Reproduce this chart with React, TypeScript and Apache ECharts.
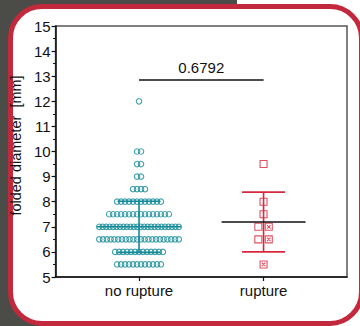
import React, { useEffect, useRef } from "react";
import * as echarts from "echarts";

const groups = ["no rupture", "rupture"];
// no rupture: folded diameter values and how many patients at each value
const noRuptureValues = [5.5, 6, 6.5, 7, 7.5, 8, 8.5, 9, 9.5, 10, 12];
const noRuptureCounts = [12, 13, 22, 24, 16, 12, 4, 2, 2, 2, 1];
// rupture: individual values
const ruptureValues = [9.5, 8, 7.5, 7, 7, 6.5, 6.5, 5.5];
// mean and SD
const means = [7.0, 7.19];
const sds = [1.02, 1.19];
const pValue = "0.6792";
const bracketY = 12.85;
const yTicks = [5, 6, 7, 8, 9, 10, 11, 12, 13, 14, 15];

const TEAL = "#138a96";
const RED = "#d7263d";
const FONT = "Liberation Sans, Arial, sans-serif";

const X_MIN = -0.67;
const X_MAX = 1.67;
const GRID_LEFT = 54;
const GRID_RIGHT = 13;
const PLOT_W = 360 - GRID_LEFT - GRID_RIGHT;
const PX = (X_MAX - X_MIN) / PLOT_W; // x units per pixel

function swarm(values: number[], counts: number[], group: number, spacingPx: number, maxWidthPx: number) {
  const out: number[][] = [];
  values.forEach((v, i) => {
    const n = counts[i];
    const sp = n > 1 ? Math.min(spacingPx, maxWidthPx / (n - 1)) : 0;
    for (let k = 0; k < n; k++) {
      out.push([group + (k - (n - 1) / 2) * sp * PX, v]);
    }
  });
  return out;
}

function ruptureSwarm() {
  const uniq: number[] = [];
  const cnt: number[] = [];
  ruptureValues.forEach((v) => {
    const i = uniq.indexOf(v);
    if (i < 0) {
      uniq.push(v);
      cnt.push(1);
    } else cnt[i]++;
  });
  return swarm(uniq, cnt, 1, 10.5, 80);
}

const crossedRect = "path://M0,0L10,0L10,10L0,10Z M2.5,2.5L7.5,7.5 M7.5,2.5L2.5,7.5";

export default function App() {
  const ref = useRef<HTMLDivElement>(null);
  useEffect(() => {
    if (!ref.current) return;
    const chart = echarts.init(ref.current, null, { renderer: "svg" });
    const nrData = swarm(noRuptureValues, noRuptureCounts, 0, 4, 80);
    const rData = ruptureSwarm();
    const statsData = groups.map((_, i) => [i, means[i], sds[i]]);

    chart.setOption({
      animation: false,
      grid: {
        left: GRID_LEFT,
        right: GRID_RIGHT,
        top: 26,
        bottom: 49,
        show: true,
        borderColor: "#555",
        borderWidth: 1.5,
        backgroundColor: "transparent",
      },
      xAxis: {
        type: "value",
        min: X_MIN,
        max: X_MAX,
        splitLine: { show: false },
        axisLine: { onZero: false, lineStyle: { color: "#111", width: 1.5 } },
        axisTick: { show: true, customValues: [0, 1], length: 4, lineStyle: { color: "#111", width: 1.2 } },
        axisLabel: {
          customValues: [0, 1],
          formatter: (v: number) => groups[Math.round(v)] ?? "",
          fontSize: 15,
          color: "#111",
          fontFamily: FONT,
          margin: 6,
        },
      },
      yAxis: {
        type: "value",
        min: yTicks[0],
        max: yTicks[yTicks.length - 1],
        interval: 1,
        name: "folded diameter  [mm]",
        nameLocation: "middle",
        nameGap: 32,
        nameTextStyle: { fontSize: 14.5, color: "#111", fontFamily: FONT, padding: [0, 0, 0, 12] },
        splitLine: { show: false },
        axisLine: { show: true, onZero: false, lineStyle: { color: "#111", width: 1.5 } },
        axisTick: { show: true, length: 4, lineStyle: { color: "#111", width: 1.2 } },
        minorTick: { show: true, splitNumber: 2, length: 2.5, lineStyle: { color: "#111", width: 1 } },
        axisLabel: { fontSize: 15, color: "#111", fontFamily: FONT, margin: 5 },
      },
      series: [
        {
          type: "scatter",
          data: nrData,
          symbol: "circle",
          symbolSize: 5.5,
          itemStyle: { color: "rgba(255,255,255,0)", borderColor: TEAL, borderWidth: 1.1 },
          z: 3,
        },
        {
          type: "scatter",
          data: rData,
          symbol: (val: number[]) =>
            val[0] > 1.001 || val[1] < means[1] - sds[1] ? crossedRect : "rect",
          symbolSize: 7,
          itemStyle: { color: "rgba(255,255,255,0)", borderColor: RED, borderWidth: 1.1 },
          z: 3,
        },
        {
          type: "custom",
          data: statsData,
          z: 4,
          renderItem: (params: any, api: any) => {
            const g = api.value(0);
            const m = api.value(1);
            const s = api.value(2);
            const pm = api.coord([g, m]);
            const pt = api.coord([g, m + s]);
            const pb = api.coord([g, m - s]);
            const c = g === 0 ? TEAL : RED;
            const meanColor = g === 0 ? TEAL : "#111";
            const capHalf = 21.5;
            const meanHalf = 42;
            return {
              type: "group",
              children: [
                { type: "line", shape: { x1: pt[0], y1: pt[1], x2: pb[0], y2: pb[1] }, style: { stroke: c, lineWidth: 1.6 } },
                { type: "line", shape: { x1: pt[0] - capHalf, y1: pt[1], x2: pt[0] + capHalf, y2: pt[1] }, style: { stroke: c, lineWidth: 1.6 } },
                { type: "line", shape: { x1: pb[0] - capHalf, y1: pb[1], x2: pb[0] + capHalf, y2: pb[1] }, style: { stroke: c, lineWidth: 1.6 } },
                { type: "line", shape: { x1: pm[0] - meanHalf, y1: pm[1], x2: pm[0] + meanHalf, y2: pm[1] }, style: { stroke: meanColor, lineWidth: 1.6 } },
              ],
            };
          },
        },
        {
          type: "custom",
          data: [[0, 1, bracketY]],
          z: 4,
          renderItem: (params: any, api: any) => {
            const a = api.coord([api.value(0), api.value(2)]);
            const b = api.coord([api.value(1), api.value(2)]);
            return {
              type: "group",
              children: [
                { type: "line", shape: { x1: a[0], y1: a[1], x2: b[0], y2: b[1] }, style: { stroke: "#111", lineWidth: 1.6 } },
                {
                  type: "text",
                  x: (a[0] + b[0]) / 2,
                  y: a[1] - 5,
                  style: {
                    text: pValue,
                    fill: "#111",
                    fontSize: 15,
                    fontFamily: FONT,
                    align: "center",
                    verticalAlign: "bottom",
                  },
                },
              ],
            };
          },
        },
      ],
    });
    return () => chart.dispose();
  }, []);

  return (
    <div style={{ position: "fixed", left: 0, top: 0, width: 360, height: 326, background: "#ffffff", overflow: "hidden" }}>
      <div style={{ position: "absolute", left: 0, top: 0, width: 237, height: 326, background: "#4b4c47" }} />
      <div
        style={{
          position: "absolute",
          left: 8,
          top: 4,
          width: 356,
          height: 322,
          boxSizing: "border-box",
          border: "5px solid #c2293d",
          borderRadius: 34,
          background: "#ffffff",
        }}
      />
      <div ref={ref} style={{ position: "absolute", left: 0, top: 0, width: 360, height: 326 }} />
    </div>
  );
}
